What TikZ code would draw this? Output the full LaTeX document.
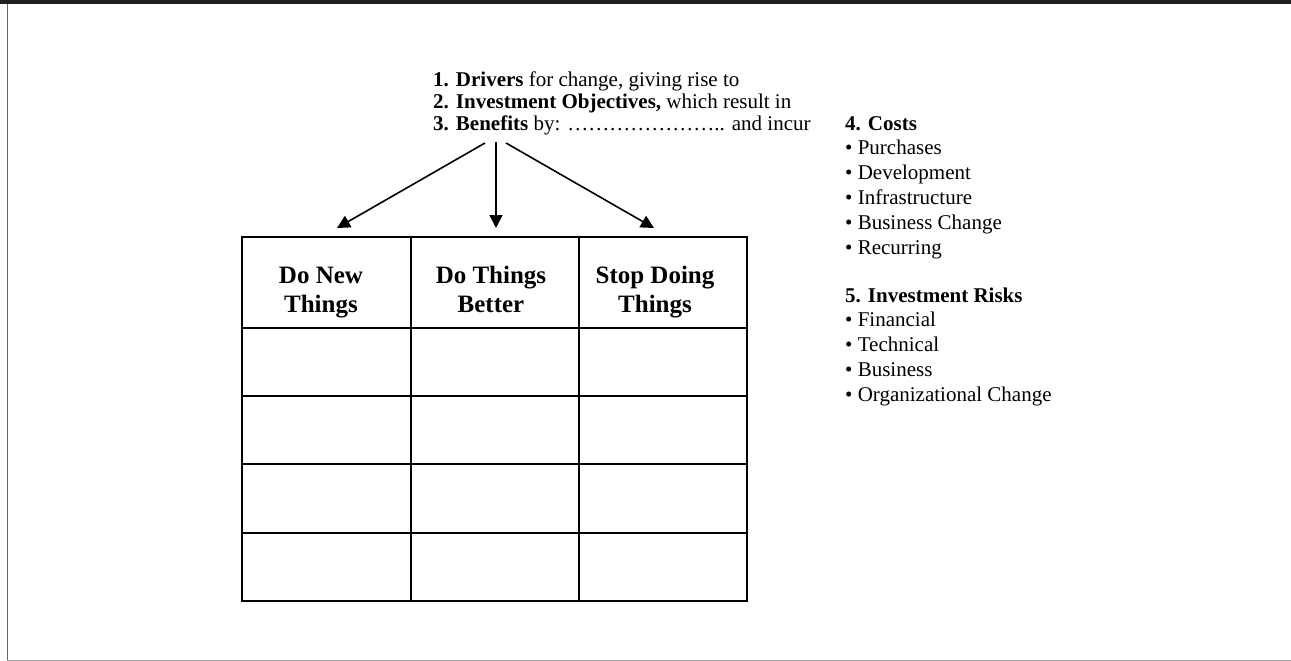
\documentclass[tikz,border=0pt]{standalone}
\usepackage{fontspec}
\setmainfont{Liberation Serif}
\usetikzlibrary{arrows.meta,positioning}

\tikzset{
  txt/.style={anchor=base west,inner sep=0pt,font=\fontsize{21}{22}\selectfont},
  head/.style={anchor=base,align=center,inner sep=0pt,font=\fontsize{25}{29}\selectfont\bfseries},
  grid/.style={line width=1.8pt},
  pointer/.style={line width=1.6pt,-{Triangle[length=13pt,width=13pt]}}
}

\begin{document}
\begin{tikzpicture}[x=1pt,y=-1pt]
\useasboundingbox (0,0) rectangle (1291,661);
% frame
\fill[black!88] (0,0) rectangle (1291,3.7);
\draw[black!60,line width=1pt] (7,3.7) -- (7,660);
\draw[black!35,line width=1pt] (7,660) -- (1291,660);

% the three numbered lines
\node[txt] (l1) at (433,87) {\textbf{1. Drivers} for change, giving rise to};
\node[txt] (l2) at (433,108.5) {\textbf{2. Investment Objectives,} which result in};
\node[txt] (l3) at (433,130) {\textbf{3. Benefits} by: \ldots\ldots\ldots\ldots\ldots\ldots\ldots.. and incur};

% table
\draw[grid] (242,237) rectangle (747,601);
\foreach \x in {411,579} {
\draw[grid] (\x,237) -- (\x,601);
}
\foreach \y in {328,396,464,533} {
\draw[grid] (242,\y) -- (747,\y);
}
\node[head] (h0) at (321,312) {Do New\\Things};
\node[head] (h1) at (491,312) {Do Things\\Better};
\node[head] (h2) at (655,312) {Stop Doing\\Things};

% arrows
\coordinate (s0) at (485,143);
\coordinate (s1) at (496,142);
\coordinate (s2) at (506,143);
\coordinate (c0) at (337,228);
\coordinate (c1) at (496,228);
\coordinate (c2) at (654,228);
\foreach \x in {0,1,2} {
\draw[pointer] (s\x) -- (c\x);
};

% costs and risks
\node[txt] (costs) at (845,130) {\textbf{4. Costs}};
\foreach \t [count=\i] in {Purchases,Development,Infrastructure,Business Change,Recurring} {
\node[txt] (cost\i) at (845,{130+24.8*\i}) {\textbullet\ \t};
}
\node[txt] (risks) at (845,302) {\textbf{5. Investment Risks}};
\foreach \t [count=\i] in {Financial,Technical,Business,Organizational Change} {
\node[txt] (risk\i) at (845,{302+24.8*\i}) {\textbullet\ \t};
}
\end{tikzpicture}
\end{document}
